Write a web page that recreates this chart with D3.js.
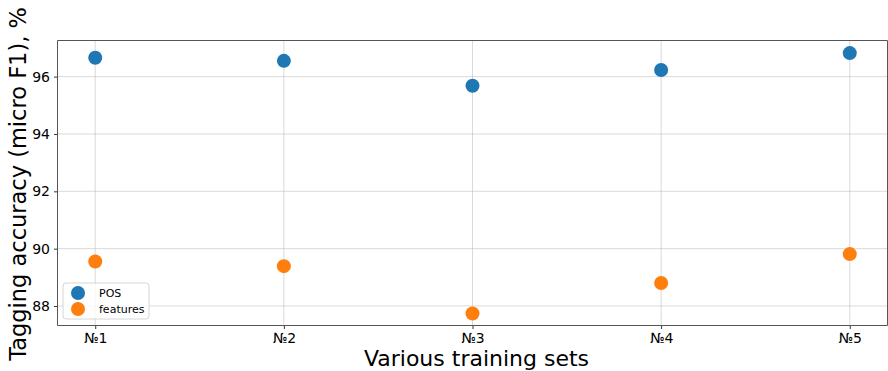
<!DOCTYPE html>
<html><head><meta charset="utf-8">
<script src="https://cdn.jsdelivr.net/npm/d3@7"></script>
<style>body{margin:0;background:#fff}svg{display:block;font-family:"DejaVu Sans",sans-serif}</style>
</head><body><svg id="c" width="888" height="371"></svg>
<script>
const categories = ["№1","№2","№3","№4","№5"];
const posValues = [96.66, 96.55, 95.68, 96.23, 96.82];
const featValues = [89.55, 89.39, 87.74, 88.80, 89.81];
const yTicks = [88, 90, 92, 94, 96];
const seriesNames = ["POS", "features"];
const colors = ["#1f77b4", "#ff7f0e"];

const svg = d3.select("#c");
const L = 57.5, R = 887.5, T = 40.5, B = 325.5;
const x = d3.scaleLinear().domain([-0.2, 4.2]).range([L, R]);
const y = d3.scaleLinear().domain([87.32, 97.26]).range([B, T]);

// grid
svg.append("g").selectAll("line").data(yTicks).join("line")
  .attr("x1", L).attr("x2", R).attr("y1", d => y(d)).attr("y2", d => y(d))
  .attr("stroke", "#b0b0b0").attr("stroke-opacity", 0.6).attr("stroke-width", 0.8);
svg.append("g").selectAll("line").data(categories).join("line")
  .attr("x1", (d, i) => x(i)).attr("x2", (d, i) => x(i)).attr("y1", T).attr("y2", B)
  .attr("stroke", "#b0b0b0").attr("stroke-opacity", 0.6).attr("stroke-width", 0.8);

// axes
const xAxis = d3.axisBottom(x).tickValues(d3.range(categories.length)).tickFormat(i => categories[i]).tickSize(3.5).tickPadding(4);
const yAxis = d3.axisLeft(y).tickValues(yTicks).tickFormat(d3.format("d")).tickSize(3.5).tickPadding(4);
const gx = svg.append("g").attr("transform", `translate(0,${B})`).call(xAxis);
const gy = svg.append("g").attr("transform", `translate(${L},0)`).call(yAxis);
[gx, gy].forEach(g => {
  g.select(".domain").remove();
  g.selectAll("text").attr("font-size", 14).attr("fill", "#000").attr("font-family", "DejaVu Sans");
  g.selectAll("line").attr("stroke", "#000").attr("stroke-width", 0.8);
});

// spines
svg.append("line").attr("x1", L).attr("x2", L).attr("y1", T).attr("y2", B).attr("stroke", "#555").attr("stroke-width", 1);
svg.append("line").attr("x1", L).attr("x2", R).attr("y1", T).attr("y2", T).attr("stroke", "#555").attr("stroke-width", 1);
svg.append("line").attr("x1", L).attr("x2", R).attr("y1", B).attr("y2", B).attr("stroke", "#555").attr("stroke-width", 1);
svg.append("line").attr("x1", R).attr("x2", R).attr("y1", T).attr("y2", B).attr("stroke", "#555").attr("stroke-width", 1);

// points
[posValues, featValues].forEach((vals, s) => {
  svg.append("g").selectAll("circle").data(vals).join("circle")
    .attr("cx", (d, i) => x(i)).attr("cy", d => y(d)).attr("r", 7)
    .attr("fill", colors[s]);
});

// labels
svg.append("text").attr("x", (L + R) / 2 + 4).attr("y", 366).attr("text-anchor", "middle")
  .attr("font-size", 22).attr("fill", "#000").text("Various training sets");
svg.append("text").attr("transform", `translate(26,184) rotate(-90)`).attr("text-anchor", "middle")
  .attr("font-size", 22.5).attr("fill", "#000").text("Tagging accuracy (micro F1), %");

// legend
const lg = svg.append("g").attr("transform", "translate(63,283)");
lg.append("rect").attr("width", 86).attr("height", 36).attr("rx", 3).attr("fill", "#fff").attr("fill-opacity", 0.8)
  .attr("stroke", "#ccc").attr("stroke-width", 0.8);
seriesNames.forEach((n, i) => {
  lg.append("circle").attr("cx", 15).attr("cy", 10 + i * 16).attr("r", 7).attr("fill", colors[i]);
  lg.append("text").attr("x", 36).attr("y", 14 + i * 16).attr("font-size", 11).attr("fill", "#000").text(n);
});
</script></body></html>
